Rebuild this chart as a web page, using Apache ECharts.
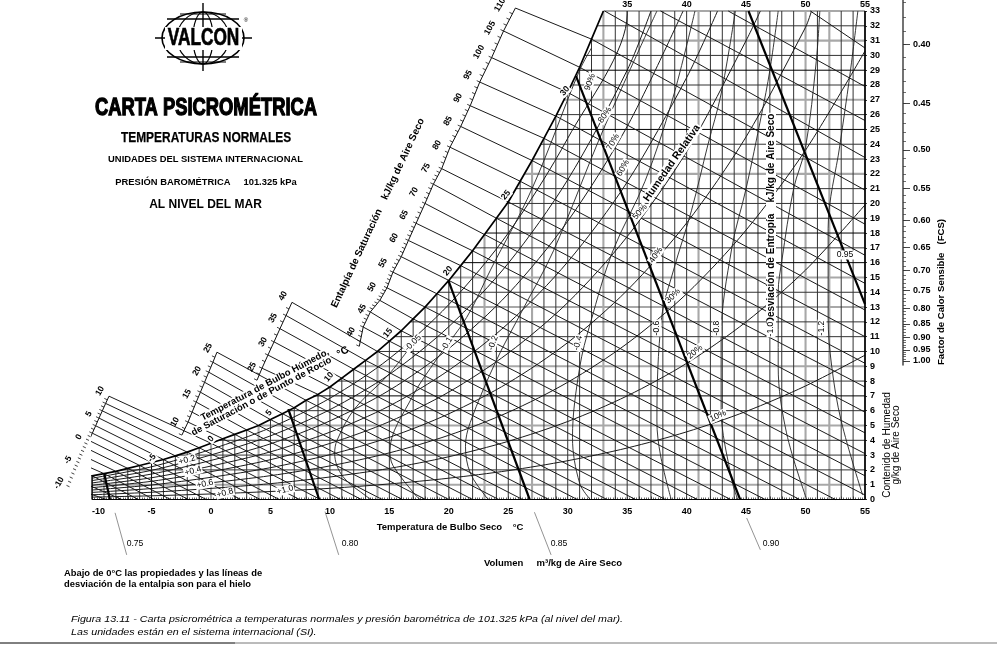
<!DOCTYPE html>
<html><head><meta charset="utf-8">
<style>html,body{margin:0;padding:0;background:#fff}#c{width:997px;height:645px}</style>
<script src="https://cdn.jsdelivr.net/npm/echarts@6/dist/echarts.min.js"></script>
</head><body><div id="c"></div>
<script>
// ---------- values (dry bulb °C, moisture g/kg) ----------
const xTicks=[-10,-5,0,5,10,15,20,25,30,35,40,45,50,55];
const topTicks=[35,40,45,50,55];
const satT=[-10,-9,-8,-7,-6,-5,-4,-3,-2,-1,0,1,2,3,4,5,6,7,8,9,10,11,12,13,14,15,16,17,18,19,20,21,22,23,24,25,26,27,28,29,30,31,32,33];
const satW=[1.6,1.75,1.9,2.1,2.3,2.5,2.7,2.95,3.2,3.5,3.8,4.1,4.4,4.7,5.0,5.4,5.8,6.2,6.7,7.1,7.6,8.2,8.8,9.4,10,10.7,11.4,12.2,13,13.9,14.8,15.8,16.8,17.9,19,20.1,21.5,22.9,24.4,25.9,27.5,29.2,31.1,33];
const humW=[1,2,3,4,5,6,7,8,9,10,11,12,13,14,15,16,17,18,19,20,21,22,23,24,25,26,27,28,29,30,31,32,33];
const humStartT=[-10,-7.6,-2.8,0.7,4,6.5,8.6,10.7,12.3,14,15.5,16.8,18,19.1,20.2,21.2,22.2,23.1,24,24.8,25.6,26.4,27.1,27.7,28.4,29.1,29.7,30.3,30.9,31.4,32,32.5,33];
const grayT=[-9,0,4,14,23,27,33,41,50,52];
const blackT=[-5];
const grayW=[1,5,9,13,15,22,27,31,33];
const blackW=[7,16,18,25,29];

const rhT=[-10,-5,0,5,10,15,20,25,30,35,40,45,50,55];
const rh10=[.16,.25,.375,.54,.755,1.05,1.44,1.95,2.62,3.48,4.57,5.95,7.67,9.75];
const rh20=[.32,.49,.75,1.07,1.52,2.1,2.89,3.93,5.27,7,9.2,12,15.5,19.9];
const rh30=[.48,.74,1.13,1.61,2.27,3.15,4.34,5.89,7.92,10.54,13.9,18.2,23.6,30.3];
const rh40=[.64,.98,1.5,2.15,3.03,4.2,5.79,7.88,10.6,14.13,18.68,24.5,31.9];
const rh50=[.8,1.23,1.88,2.69,3.79,5.26,7.26,9.89,13.3,17.76,23.5,31];
const rh60=[.96,1.47,2.26,3.22,4.55,6.32,8.73,11.9,16.05,21.44,28.5];
const rh70=[1.12,1.72,2.64,3.76,5.31,7.38,10.2,13.9,18.8,25.2];
const rh80=[1.28,1.97,3.01,4.3,6.07,8.45,11.68,15.96,21.6,29];
const rh90=[1.44,2.21,3.39,4.85,6.84,9.52,13.17,18,24.4,32.8];
const rhCurves=[rh10,rh20,rh30,rh40,rh50,rh60,rh70,rh80,rh90];
const rhTopT=[null,null,null,50.5,46.2,42.6,39.7,37,35];

const wbT=[-12,-11,-10,-9,-8,-7,-6,-5,-4,-3,-2,-1,0,1,2,3,4,5,6,7,8,9,10,11,12,13,14,15,16,17,18,19,20,21,22,23,24,25,26,27,28,29,30,31,32,33,34,35,36];
const wbStartT=[-11.9,-11.63,-11.35,-11.07,-10.82,-10.53,-10.26,-9.98,-9.7,-9.42,-9.14,-8.86,-8.58,-1.93,-1.59,-1.24,-.89,-.54,-.19,.16,.5,4.29,4.79,5.3,5.8,6.31,6.81,12.8,13.4,14.2,14.8,15.3,16,16.6,17.25,18,18.7,19.4,20.1,21,21.8,22.6,23.6,24.6,25.6,33.1,37.8,43.5,50.4];
const wbStartW=[.86,1.43,1.99,2.48,2.98,3.49,3.99,4.48,4.98,5.5,5.99,6.49,6.98,5.23,5.9,6.58,7.25,7.92,8.6,9.27,9.95,8.87,9.76,10.65,11.54,12.43,13.32,11.65,12.67,13.45,14.3,15.36,16.4,17.5,18.66,20,21.3,22.35,23.8,25.2,26.6,28.2,29.85,31.65,33.2,33,33,33,33];
const wbEndT=[-8.8,-7.5,-6.1,-4.8,-3.4,-1.9,-.4,1.05,2.5,4.15,5.75,7.45,9.2,10.9,12.65,14.4,16.1,18.05,20,22,24.2,26.2,28.4,30.8,33.3,35.7,38.2,40.9,43.7,46.6,49.5,52.5,55,55,55,55,55,55,55,55,55,55,55,55,55,55,55,55,55];
const wbEndW=[0,0,0,0,0,0,0,0,0,0,0,0,0,0,0,0,0,0,0,0,0,0,0,0,0,0,0,0,0,0,0,0,.3,1.6,3.1,4.5,5.9,7.6,9.2,11,12.8,14.6,16.5,18.6,20.9,23.1,25.6,27.9,30.5];

const vol075=[[-8.97,1.72],[-8.5,0]];
const vol080=[[6.5,6.1],[9.1,0]];
const vol085=[[19.96,14.8],[26.8,0]];
const vol090=[[30.7,28.6],[44.5,0]];
const vol095=[[45.2,33],[55,13.2]];
const volCurves=[vol075,vol080,vol085,vol090,vol095];
const leaders=[[[-8.07,-.9],[-7.09,-3.74]],[[9.59,-.82],[10.74,-3.74]],[[27.2,-.86],[28.6,-3.74]],[[45.05,-1.25],[46.2,-3.4]]];

const dev005=[[17.3,10.9],[15,8.5],[12.1,6.15],[10.6,4],[10.4,3.1],[11.1,1.54],[13.1,.2],[13.5,0]];
const dev01=[[32,30.5],[31,29],[27,21],[23.5,15.5],[21.5,12.3],[19,9.5],[16.9,6.9],[15.05,3.3],[15.3,2.3],[17.3,.2],[17.6,0]];
const dev02=[[37.5,33],[33,25],[28.8,16.8],[26.2,12.8],[24,9.4],[21.8,5.2],[21.4,3.6],[21.8,1.8],[23.2,.1],[23.4,0]];
const dev04=[[40.7,33],[38.8,27],[36.5,21.5],[33.8,16.8],[31.9,11.9],[31,8.9],[30.4,4.2],[31,1.1],[31.9,0]];
const dev06=[[44.1,33],[42.9,27.4],[41.8,24],[40.4,19.5],[38.9,15.5],[37.9,12.3],[37.5,5.3],[37.8,3],[38.7,0]];
const dev08=[[47.7,33],[47,29],[46.3,26],[45,21],[43.8,17],[42.9,10.9],[42.9,6.2],[43.8,1.3],[44.3,0]];
const dev10=[[51.2,33],[50.9,29.6],[50,23.8],[49,21],[48,16.1],[47.7,14],[47.7,9],[48.4,4.5],[50.1,0]];
const dev12=[[54.4,33],[53.7,28.5],[52.9,24],[51.9,18.3],[51.9,12.3],[52.2,9],[53,5.3],[54.8,.3]];
const devCurves=[dev005,dev01,dev02,dev04,dev06,dev08,dev10,dev12];

const scaleBaseB=[-2.45,4.35], scaleBaseC=[3.87,8.06], scaleBaseD=[12.47,10.35];
const fcsMajor=[.40,.45,.50,.55,.60,.65,.70,.75,.80,.85,.90,.95,1.00];
const fcsMinor=[.37,.38,.39,.40,.41,.42,.43,.44,.45,.46,.47,.48,.49,.50,.51,.52,.53,.54,.55,.56,.57,.58,.59,.60,.61,.62,.63,.64,.65,.66,.67,.68,.69,.70,.71,.72,.73,.74,.75,.76,.77,.78,.79,.80,.81,.82,.83,.84,.85,.86,.87,.88,.89,.90,.91,.92,.93,.94,.95,.96,.97,.98,.99,1.00];

// ---------- series ----------
const series=[];
function path(pts,color,width,z){
  series.push({type:'line',data:pts,symbol:'none',clip:false,silent:true,animation:false,z:z||2,
    lineStyle:{color:color,width:width,cap:'butt'}});
}
function styleFor(v,gray,black){
  if(gray.includes(v)) return ['#a8a8a8',2.1];
  if(black.includes(v)) return ['#000',1];
  return ['#333',1];
}
for(let t=-10;t<=55;t++){
  const i=satT.indexOf(t), top=i>=0?satW[i]:33, s=styleFor(t,grayT,blackT);
  path([[t,0],[t,top]],s[0],s[1],s[0]==='#a8a8a8'?1:2);
}
humW.forEach((w,i)=>{const s=styleFor(w,grayW,blackW);path([[humStartT[i],w],[55,w]],s[0],s[1],s[0]==='#a8a8a8'?1:2);});
rhCurves.forEach((c,k)=>{
  const pts=c.map((w,i)=>[rhT[i],w]);
  if(rhTopT[k]!==null) pts.push([rhTopT[k],33]);
  path(pts,'#1a1a1a',1,3);
  series[series.length-1].smooth=0.3;
});
wbT.forEach((tw,i)=>{
  const pts=[[wbStartT[i],wbStartW[i]]];
  const j=satT.indexOf(tw);
  if(j>=0&&tw<33&&tw>-11) pts.push([tw,satW[j]]);
  pts.push([wbEndT[i],wbEndW[i]]);
  path(pts,'#1a1a1a',1,3);
});
devCurves.forEach(c=>{path(c,'#222',.9,3);series[series.length-1].smooth=0.35;});
volCurves.forEach(c=>path(c,'#000',2.2,4));
leaders.forEach(c=>path(c,'#777',.8,3));
path(satT.map((t,i)=>[t,satW[i]]),'#000',1.7,4);
path([[-10,0],[55,0]],'#000',1.2,4);
path([[55,0],[55,33]],'#000',1.6,4);
path([[-10,0],[-10,1.6]],'#000',1.2,4);

function scalePts(from,to,base){
  const pts=[];
  if(base) pts.push(base);
  for(let i=wbT.indexOf(from);i<=wbT.indexOf(to);i++) pts.push([wbStartT[i],wbStartW[i]]);
  return pts;
}
function scaleSeries(pts,n){
  path(pts,'#111',1,3);
  series.push({type:'custom',coordinateSystem:'cartesian2d',clip:false,silent:true,animation:false,z:3,
    data:pts.slice(1).map((p,i)=>[pts[i][0],pts[i][1],p[0],p[1]]),
    encode:{x:[0,2],y:[1,3]},
    renderItem:function(params,api){
      const a=api.coord([api.value(0),api.value(1)]),b=api.coord([api.value(2),api.value(3)]),ch=[];
      for(let k=0;k<n;k++){
        const x=a[0]+(b[0]-a[0])*k/n,y=a[1]+(b[1]-a[1])*k/n;
        ch.push({type:'line',shape:{x1:x,y1:y,x2:x-3,y2:y-1.4},style:{stroke:'#111',lineWidth:.8}});
      }
      return {type:'group',children:ch};
    }});
}
scaleSeries(scalePts(-12,0),2);
scaleSeries(scalePts(1,8,scaleBaseB),2);
scaleSeries(scalePts(9,14,scaleBaseC),2);
scaleSeries(scalePts(15,32,scaleBaseD),4);

// ---------- text ----------
const F='"Liberation Sans",Arial,sans-serif';
const g=[];
function tx(x,y,s,size,rot,o){
  o=o||{};
  const st={text:s,font:(o.style||'')+' '+(o.w||'bold')+' '+size+'px '+F,fill:o.fill||'#000',
    align:o.align||'center',verticalAlign:'middle'};
  if(o.bg){st.backgroundColor='#fff';st.padding=[0,1];}
  if(o.lh){st.lineHeight=o.lh;}
  if(o.stroke){st.stroke=o.stroke;st.lineWidth=o.sw||.6;}
  g.push({type:'text',x:x,y:y,rotation:(rot||0)*Math.PI/180,scaleX:o.sx||1,style:st,z:o.z||100,silent:true});
}
// logo
const LC={cx:203,cy:38};
[[41,26,1.6],[26,26,1.2],[10,26,1.2]].forEach(e=>g.push({type:'ellipse',shape:{cx:LC.cx,cy:LC.cy,rx:e[0],ry:e[1]},style:{fill:'none',stroke:'#000',lineWidth:e[2]},z:100}));
[[203,3,203,71,1.4],[155,38,252,38,1.4],[167,19,239,19,1.3],[167,57,239,57,1.3],[180,14,226,14,1],[180,62,226,62,1]].forEach(l=>g.push({type:'line',shape:{x1:l[0],y1:l[1],x2:l[2],y2:l[3]},style:{stroke:'#000',lineWidth:l[4]},z:100}));
g.push({type:'rect',shape:{x:165,y:27,width:77,height:23},style:{fill:'#fff'},z:101});
tx(203.5,38.5,'VALCON',24,0,{sx:.72,stroke:'#000',sw:.7,z:102});
tx(246,20,'®',6,0,{w:'normal'});
// titles
tx(206,108,'CARTA PSICROMÉTRICA',24,0,{sx:.765,stroke:'#000',sw:1.3});
tx(206,138,'TEMPERATURAS NORMALES',15.5,0,{sx:.77,stroke:'#000',sw:.25});
tx(205.5,159,'UNIDADES DEL SISTEMA INTERNACIONAL',9.4);
tx(206,182,'PRESIÓN BAROMÉTRICA     101.325 kPa',9.4);
tx(205.5,205,'AL NIVEL DEL MAR',12);
// chart titles
tx(378,213,'Entalpía de Saturación    kJ/kg de Aire Seco',10,65);
tx(261.5,396.5,'de Saturación o de Punto de Rocío',9.5,28,{bg:1,lh:9});
tx(265,385,'Temperatura de Bulbo Húmedo,',9.5,27.8,{bg:1,lh:9});
tx(343,352,'°C',10.5,30);
tx(672,163,'Humedad Relativa',10.5,55,{bg:1});
tx(771,219,'Desviación de Entropía    kJ/kg de Aire Seco',10,90,{bg:1});
tx(450,527.5,'Temperatura de Bulbo Seco    °C',9.5);
tx(553,563.5,'Volumen     m³/kg de Aire Seco',9.5);
tx(64,573,'Abajo de 0°C las propiedades y las líneas de',9.4,0,{align:'left'});
tx(64,584.5,'desviación de la entalpia son para el hielo',9.4,0,{align:'left'});
tx(71,619,'Figura 13.11 - Carta psicrométrica a temperaturas normales y presión barométrica de 101.325 kPa (al nivel del mar).',9.9,0,{align:'left',w:'normal',style:'italic',sx:1.083});
tx(71,632,'Las unidades están en el sistema internacional (SI).',9.9,0,{align:'left',w:'normal',style:'italic',sx:1.083});
tx(887,445,'Contenido de Humedad',10,90,{w:'normal'});
tx(896.5,445,'g/kg de Aire Seco',10,90,{w:'normal'});
tx(941,292,'Factor de Calor Sensible   (FCS)',9.6,90);
// scale labels
[[500,5,'110'],[490,28,'105'],[479,52,'100'],[468,75,'95'],[458,98,'90'],[448,121,'85'],[437,145,'80'],[426,168,'75'],[414,192,'70'],[404,215,'65'],[394,238,'60'],[383,263,'55'],[372,287,'50'],[362,309,'45'],[351,332,'40'],
 [283,296,'40'],[273,318,'35'],[263,342,'30'],[252,367,'25'],[208,348,'25'],[197,371,'20'],[187,394,'15'],[175,422,'10'],[100,391,'10'],[89,414,'5'],[79,437,'0'],[68,460,'-5'],[59,483,'-10']
].forEach(a=>tx(a[0],a[1],a[2],8.6,60));
[[152,458,'-5'],[211,439,'0'],[269,413,'5'],[329,377,'10'],[388,333,'15'],[448,271,'20'],[506,195,'25'],[565,91,'30']].forEach(a=>tx(a[0],a[1],a[2],8.6,50,{bg:1}));
[[590,82,'90%',70],[605,115,'80%',55],[613,142,'70%',60],[623,168,'60%',60],[640,212,'50%',50],[656,255,'40%',55],[673,296,'30%',45],[695,352,'20%',40],[718,416,'10%',25]].forEach(a=>tx(a[0],a[1],a[2],8.6,a[3],{bg:1,w:'normal'}));
[[413,343,'-0.05',45],[447,344,'-0.1',60],[493,343,'-0.2',70],[578,343,'-0.4',75],[657,328,'-0.6',90],[717,328,'-0.8',90],[771,329,'-1.0',90],[822,328,'-1.2',90]].forEach(a=>tx(a[0],a[1],a[2],8.6,a[3],{bg:1,w:'normal'}));
[[187,460,'+0.2',15],[193,471,'+0.4',15],[205,484,'+0.6',12],[225,493,'+0.8',15],[285,490,'+1.0',15]].forEach(a=>tx(a[0],a[1],a[2],8.6,a[3],{bg:1,w:'normal'}));
[[135,544,'0.75'],[350,544,'0.80'],[559,544,'0.85'],[771,544,'0.90'],[845,255,'0.95']].forEach(a=>tx(a[0],a[1],a[2],8.6,0,{bg:a[2]==='0.95',w:'normal'}));
// bottom rule
g.push({type:'line',shape:{x1:0,y1:643,x2:235,y2:643},style:{stroke:'#000',lineWidth:1},z:100});
g.push({type:'line',shape:{x1:235,y1:643,x2:997,y2:643},style:{stroke:'#777',lineWidth:1},z:100});

const font={fontFamily:F,fontWeight:'bold',fontSize:9,color:'#000'};
const option={
  backgroundColor:'#fff',animation:false,
  grid:[{left:92.1,top:10,width:772.9,height:489.5,containLabel:false},
        {left:902,top:0,width:1,height:365}],
  xAxis:[
    {type:'value',min:-10,max:55,interval:1,gridIndex:0,position:'bottom',splitLine:{show:false},
     axisLine:{show:false,onZero:false},axisTick:{show:true,inside:true,length:3,lineStyle:{color:'#000',width:.7}},
     minorTick:{show:true,splitNumber:5,length:2,lineStyle:{color:'#000',width:.6}},
     axisLabel:{...font,margin:8,alignMinLabel:'left',customValues:xTicks,formatter:v=>String(v)}},
    {type:'value',min:-10,max:55,interval:5,gridIndex:0,position:'top',splitLine:{show:false},axisLine:{show:false,onZero:false},axisTick:{show:false},
     axisLabel:{...font,margin:2,customValues:topTicks,formatter:v=>String(v)}},
    {type:'value',min:0,max:1,gridIndex:1,show:false}
  ],
  yAxis:[
    {type:'value',min:0,max:33,interval:1,gridIndex:0,position:'right',splitLine:{show:false},axisLine:{show:false,onZero:false},
     axisTick:{show:true,length:2,lineStyle:{color:'#000',width:.8}},
     axisLabel:{...font,margin:5,formatter:v=>String(v)}},
    {type:'value',min:.981,max:2.711,gridIndex:1,position:'right',splitLine:{show:false},
     axisLine:{show:true,onZero:false,lineStyle:{color:'#444',width:1.5}},
     axisTick:{show:true,length:3,customValues:fcsMinor.map(f=>1/f),lineStyle:{color:'#333',width:.7}},
     axisLabel:{show:false}},
    {type:'value',min:.981,max:2.711,gridIndex:1,position:'right',splitLine:{show:false},
     axisLine:{show:false,onZero:false},
     axisTick:{show:true,length:7,customValues:fcsMajor.map(f=>1/f),lineStyle:{color:'#333',width:.9}},
     axisLabel:{...font,margin:10,customValues:fcsMajor.map(f=>1/f),formatter:v=>(1/v).toFixed(2)}}
  ],
  series:series,
  graphic:{elements:g}
};
echarts.init(document.getElementById('c'),null,{renderer:'canvas'}).setOption(option);
</script></body></html>
